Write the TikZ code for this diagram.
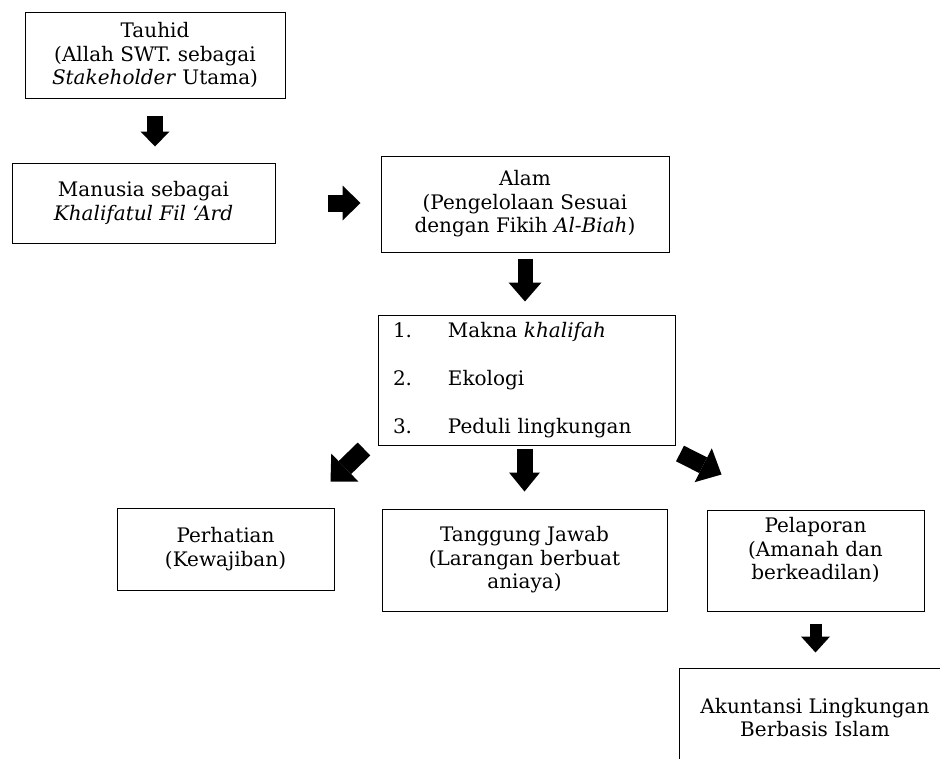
\documentclass[tikz,border=0pt]{standalone}
\usepackage{fontspec}
\setmainfont{DejaVu Serif}
\usetikzlibrary{arrows.meta}

\tikzset{
  box/.style={draw, line width=1pt, align=center, inner sep=0pt},
  blk/.style={line width=16pt, -{Triangle[length=19pt,width=32pt,line width=0pt]}},
  diagblk/.style={line width=18pt, -{Triangle[length=20pt,width=39pt,line width=0pt]}},
}

\begin{document}
\begin{tikzpicture}[x=1pt,y=-1pt,font=\fontsize{20}{23.5}\selectfont]
        % picture frame
        \useasboundingbox (0,0) rectangle (940,758);
        \clip (0,0) rectangle (940,758);

        % Draw the boxes
        \node[box, minimum width=260pt, minimum height=86pt] (tauhid) at (155,55)
            {Tauhid\\(Allah SWT. sebagai\\\textit{Stakeholder} Utama)};
        \node[box, minimum width=263pt, minimum height=80pt] (manusia) at (143.5,203)
            {Manusia sebagai\\\textit{Khalifatul Fil ‘Ard}};
        \node[box, minimum width=288pt, minimum height=96pt] (alam) at (525,204)
            {Alam\\(Pengelolaan Sesuai\\dengan Fikih \textit{Al-Biah})};
        \node[box, minimum width=297pt, minimum height=130pt, text width=267pt, align=left] (makna) at (526.5,380)
            {\makebox[55pt][l]{1.}Makna \textit{khalifah}\\[24.5pt]
             \makebox[55pt][l]{2.}Ekologi\\[24.5pt]
             \makebox[55pt][l]{3.}Peduli lingkungan};
        \node[box, minimum width=217pt, minimum height=82pt] (perhatian) at (225.5,549)
            {Perhatian\\(Kewajiban)};
        \node[box, minimum width=285pt, minimum height=102pt] (tanggung) at (524.5,560)
            {Tanggung Jawab\\(Larangan berbuat\\aniaya)};
        \node[box, minimum width=217pt, minimum height=101pt] (pelaporan) at (815.5,560.5)
            {Pelaporan\\(Amanah dan\\berkeadilan)\\\mbox{}};
        \node[box, minimum width=272pt, minimum height=99pt] (akuntansi) at (815,717.5)
            {Akuntansi Lingkungan\\Berbasis Islam};

        % Draw the block arrows
        \draw[blk, shorten <=17pt, shorten >=16pt, -{Triangle[length=15pt,width=29pt,line width=0pt]}]
            (tauhid.south) -- (tauhid.south |- manusia.north);
        \draw[blk, line width=17pt, shorten <=52pt, shorten >=20pt, -{Triangle[length=18pt,width=35pt,line width=0pt]}]
            (manusia.east) -- (manusia.east -| alam.west);
        \draw[blk, line width=15pt, shorten <=6pt, shorten >=13pt, -{Triangle[length=19pt,width=33pt,line width=0pt]}]
            (alam.south) -- (alam.south |- makna.north);
        \draw[diagblk] ([shift={(-13.5,3.5)}]makna.south west) -- ([shift={(-4,-26)}]perhatian.north east);
        \draw[blk, shorten <=3pt, shorten >=17pt, -{Triangle[length=19pt,width=31pt,line width=0pt]}]
            (tanggung.north |- makna.south) -- (tanggung.north);
        \draw[diagblk, line width=17.5pt, -{Triangle[length=20.5pt,width=38pt,line width=0pt]}]
            ([shift={(4.5,8)}]makna.south east) -- ([shift={(15,-35)}]pelaporan.north west);
        \draw[blk, line width=12pt, shorten <=12pt, shorten >=15pt, -{Triangle[length=16pt,width=29pt,line width=0pt]}]
            (pelaporan.south) -- (pelaporan.south |- akuntansi.north);
\end{tikzpicture}
\end{document}
